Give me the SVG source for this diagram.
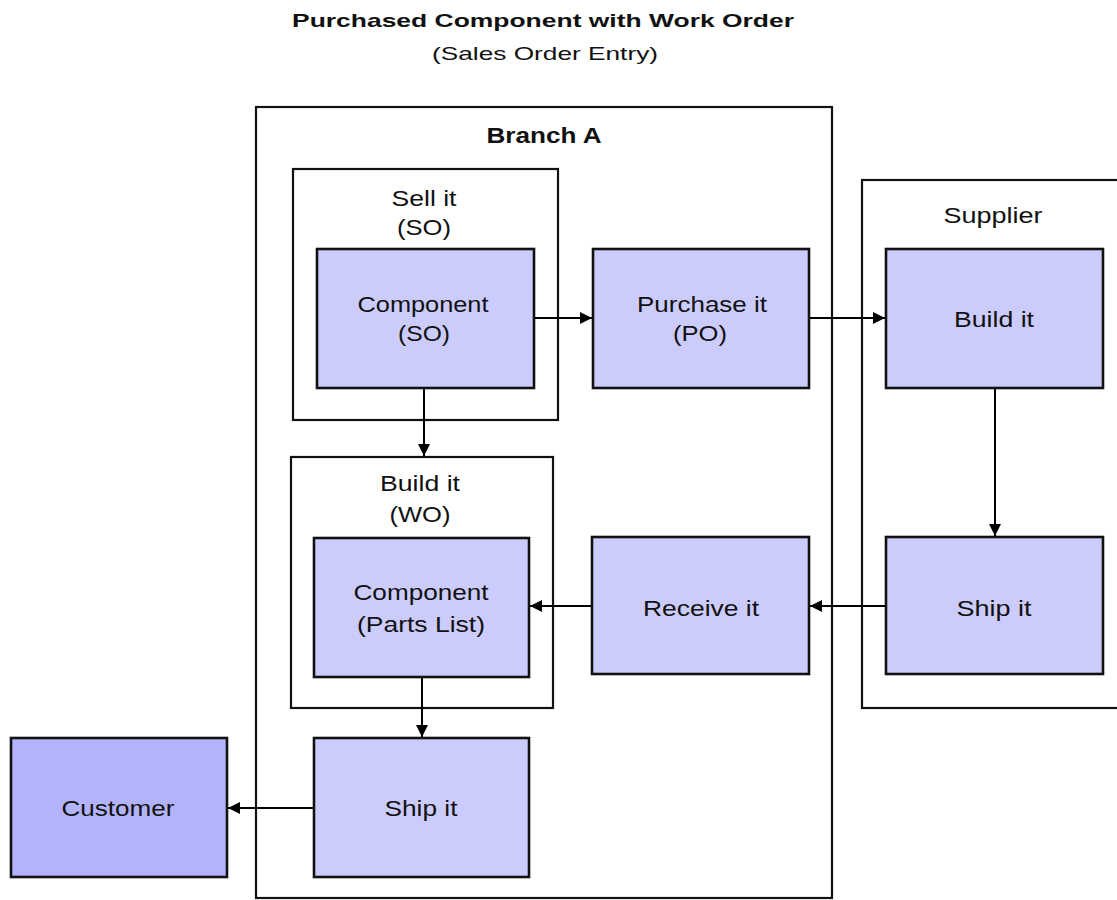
<svg xmlns="http://www.w3.org/2000/svg" width="1117" height="900" viewBox="0 0 1117 900">
<defs>
<marker id="arr" viewBox="0 0 10 10" refX="10" refY="5" markerWidth="12" markerHeight="12" markerUnits="userSpaceOnUse" orient="auto">
<path d="M0,0 L10,5 L0,10 z" fill="#000"/>
</marker>
</defs>
<style>
.cont{fill:none;stroke:#111;stroke-width:2.2}
.node{fill:#ccccfc;stroke:#111;stroke-width:2.6}
.cust{fill:#b3b3fb;stroke:#111;stroke-width:2.6}
.lbl{font-family:"Liberation Sans",Arial,sans-serif;font-size:22px;fill:#111;text-anchor:middle}
.bold{font-weight:bold}
.conn{fill:none;stroke:#000;stroke-width:2;marker-end:url(#arr)}
</style>
<rect width="1117" height="900" fill="#fff"/>
<g id="title">
<text class="lbl bold" x="543" y="27" style="font-size:19px" textLength="502" lengthAdjust="spacingAndGlyphs">Purchased Component with Work Order</text>
<text class="lbl" x="545" y="60" style="font-size:19px" textLength="226" lengthAdjust="spacingAndGlyphs">(Sales Order Entry)</text>
</g>
<g id="branchA">
<rect class="cont" x="256" y="107" width="576" height="791"/>
<text class="lbl bold" x="544" y="143" textLength="115" lengthAdjust="spacingAndGlyphs">Branch A</text>
</g>
<g id="sellIt">
<rect class="cont" x="293" y="169" width="265" height="251"/>
<text class="lbl" x="424" y="206" textLength="65" lengthAdjust="spacingAndGlyphs">Sell it</text>
<text class="lbl" x="424" y="235" textLength="54" lengthAdjust="spacingAndGlyphs">(SO)</text>
</g>
<g id="componentSO">
<rect class="node" x="317" y="249" width="217" height="139"/>
<text class="lbl" x="423" y="312" textLength="131" lengthAdjust="spacingAndGlyphs">Component</text>
<text class="lbl" x="424" y="341" textLength="52" lengthAdjust="spacingAndGlyphs">(SO)</text>
</g>
<g id="purchaseIt">
<rect class="node" x="593" y="249" width="216" height="139"/>
<text class="lbl" x="702" y="312" textLength="130" lengthAdjust="spacingAndGlyphs">Purchase it</text>
<text class="lbl" x="700" y="341" textLength="54" lengthAdjust="spacingAndGlyphs">(PO)</text>
</g>
<g id="supplier">
<rect class="cont" x="862" y="180" width="270" height="528"/>
<text class="lbl" x="993" y="223" textLength="99" lengthAdjust="spacingAndGlyphs">Supplier</text>
</g>
<g id="buildItSupplier">
<rect class="node" x="886" y="249" width="217" height="139"/>
<text class="lbl" x="994" y="327" textLength="80" lengthAdjust="spacingAndGlyphs">Build it</text>
</g>
<g id="shipItSupplier">
<rect class="node" x="886" y="537" width="217" height="137"/>
<text class="lbl" x="994" y="616" textLength="75" lengthAdjust="spacingAndGlyphs">Ship it</text>
</g>
<g id="receiveIt">
<rect class="node" x="592" y="537" width="217" height="137"/>
<text class="lbl" x="701" y="616" textLength="116" lengthAdjust="spacingAndGlyphs">Receive it</text>
</g>
<g id="buildItWO">
<rect class="cont" x="291" y="457" width="262" height="251"/>
<text class="lbl" x="420" y="491" textLength="80" lengthAdjust="spacingAndGlyphs">Build it</text>
<text class="lbl" x="420" y="522" textLength="61" lengthAdjust="spacingAndGlyphs">(WO)</text>
</g>
<g id="componentPartsList">
<rect class="node" x="314" y="538" width="215" height="139"/>
<text class="lbl" x="421" y="600" textLength="135" lengthAdjust="spacingAndGlyphs">Component</text>
<text class="lbl" x="421" y="632" textLength="128" lengthAdjust="spacingAndGlyphs">(Parts List)</text>
</g>
<g id="shipItBranch">
<rect class="node" x="314" y="738" width="215" height="139"/>
<text class="lbl" x="421" y="816" textLength="73" lengthAdjust="spacingAndGlyphs">Ship it</text>
</g>
<g id="customer">
<rect class="cust" x="11" y="738" width="216" height="139"/>
<text class="lbl" x="118" y="816" textLength="113" lengthAdjust="spacingAndGlyphs">Customer</text>
</g>
<g id="connectors">
<path class="conn" d="M535,318 H592"/>
<path class="conn" d="M810,318 H885"/>
<path class="conn" d="M424,389 V456"/>
<path class="conn" d="M995,389 V536"/>
<path class="conn" d="M885,606 H810"/>
<path class="conn" d="M591,606 H530"/>
<path class="conn" d="M422,678 V737"/>
<path class="conn" d="M313,808 H228"/>
</g>
</svg>
